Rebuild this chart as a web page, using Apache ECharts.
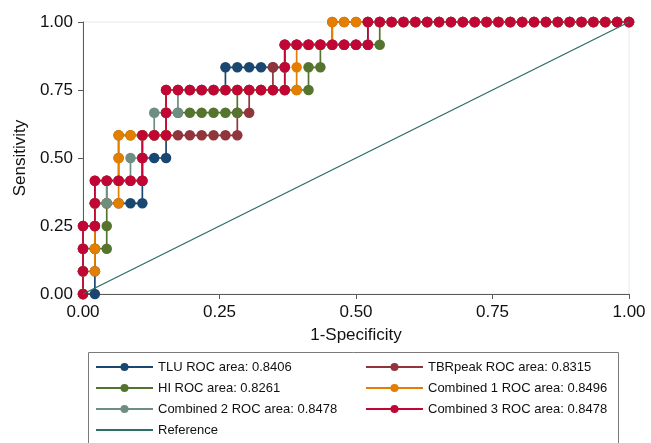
<!DOCTYPE html>
<html><head><meta charset="utf-8">
<script src="https://cdn.jsdelivr.net/npm/echarts@6/dist/echarts.min.js"></script>
<style>html,body{margin:0;padding:0;background:#fff}#c{width:651px;height:443px}</style>
</head><body><div id="c"></div>
<script>
// Counts of negatives (false positives) and positives (true positives) at each ROC point
var nNeg = 46, nPos = 12;
var xTickLabels = ['0.00','0.25','0.50','0.75','1.00'];
var yTickLabels = ['0.00','0.25','0.50','0.75','1.00'];
var seriesNames = ['TLU ROC area: 0.8406','TBRpeak ROC area: 0.8315','HI ROC area: 0.8261',
  'Combined 1 ROC area: 0.8496','Combined 2 ROC area: 0.8478','Combined 3 ROC area: 0.8478','Reference'];

var tluPts = [[0,0],[1,0],[1,1],[1,2],[1,3],[1,4],[2,4],[3,4],[4,4],[5,4],[5,5],[5,6],[6,6],[7,6],[7,7],[7,8],[7,9],[8,9],[9,9],[10,9],[11,9],[12,9],[12,10],[13,10],[14,10],[15,10],[16,10],[17,10],[17,11],[18,11],[19,11],[20,11],[21,11],[22,11],[23,11],[24,11],[24,12],[25,12],[26,12],[27,12],[28,12],[29,12],[30,12],[31,12],[32,12],[33,12],[34,12],[35,12],[36,12],[37,12],[38,12],[39,12],[40,12],[41,12],[42,12],[43,12],[44,12],[45,12],[46,12]];

var tbrPts = [[0,0],[0,1],[0,2],[0,3],[1,3],[1,4],[1,5],[2,5],[3,5],[4,5],[5,5],[5,6],[5,7],[6,7],[7,7],[8,7],[9,7],[10,7],[11,7],[12,7],[13,7],[13,8],[14,8],[14,9],[15,9],[16,9],[16,10],[17,10],[17,11],[18,11],[19,11],[20,11],[21,11],[21,12],[22,12],[23,12],[24,12],[25,12],[26,12],[27,12],[28,12],[29,12],[30,12],[31,12],[32,12],[33,12],[34,12],[35,12],[36,12],[37,12],[38,12],[39,12],[40,12],[41,12],[42,12],[43,12],[44,12],[45,12],[46,12]];

var hiPts = [[0,0],[0,1],[0,2],[1,2],[2,2],[2,3],[2,4],[2,5],[3,5],[3,6],[3,7],[4,7],[5,7],[6,7],[7,7],[7,8],[8,8],[9,8],[10,8],[11,8],[12,8],[13,8],[13,9],[14,9],[15,9],[16,9],[17,9],[18,9],[19,9],[19,10],[20,10],[20,11],[21,11],[22,11],[23,11],[24,11],[25,11],[25,12],[26,12],[27,12],[28,12],[29,12],[30,12],[31,12],[32,12],[33,12],[34,12],[35,12],[36,12],[37,12],[38,12],[39,12],[40,12],[41,12],[42,12],[43,12],[44,12],[45,12],[46,12]];

var comb1Pts = [[0,0],[0,1],[1,1],[1,2],[1,3],[1,4],[2,4],[3,4],[3,5],[3,6],[3,7],[4,7],[5,7],[6,7],[7,7],[7,8],[7,9],[8,9],[9,9],[10,9],[11,9],[12,9],[13,9],[14,9],[15,9],[16,9],[17,9],[18,9],[18,10],[18,11],[19,11],[20,11],[21,11],[21,12],[22,12],[23,12],[24,12],[25,12],[26,12],[27,12],[28,12],[29,12],[30,12],[31,12],[32,12],[33,12],[34,12],[35,12],[36,12],[37,12],[38,12],[39,12],[40,12],[41,12],[42,12],[43,12],[44,12],[45,12],[46,12]];

var comb2Pts = [[0,0],[0,1],[0,2],[0,3],[1,3],[1,4],[2,4],[2,5],[3,5],[4,5],[4,6],[5,6],[5,7],[6,7],[6,8],[7,8],[8,8],[8,9],[9,9],[10,9],[11,9],[12,9],[13,9],[14,9],[15,9],[16,9],[17,9],[17,10],[17,11],[18,11],[19,11],[20,11],[21,11],[22,11],[23,11],[24,11],[24,12],[25,12],[26,12],[27,12],[28,12],[29,12],[30,12],[31,12],[32,12],[33,12],[34,12],[35,12],[36,12],[37,12],[38,12],[39,12],[40,12],[41,12],[42,12],[43,12],[44,12],[45,12],[46,12]];

var comb3Pts = [[0,0],[0,1],[0,2],[0,3],[1,3],[1,4],[1,5],[2,5],[3,5],[4,5],[5,5],[5,6],[5,7],[6,7],[7,7],[7,8],[7,9],[8,9],[9,9],[10,9],[11,9],[12,9],[13,9],[14,9],[15,9],[16,9],[17,9],[17,10],[17,11],[18,11],[19,11],[20,11],[21,11],[22,11],[23,11],[24,11],[24,12],[25,12],[26,12],[27,12],[28,12],[29,12],[30,12],[31,12],[32,12],[33,12],[34,12],[35,12],[36,12],[37,12],[38,12],[39,12],[40,12],[41,12],[42,12],[43,12],[44,12],[45,12],[46,12]];

var refPts = [[0,0],[1,1]];

var colors = ['#1a476f','#90353b','#55752f','#e37e00','#6e8e84','#c10534','#2d6d66'];
var FONT = '"Liberation Sans", Arial, Helvetica, sans-serif';

function toRates(pts){ return pts.map(function(p){ return [p[0]/nNeg, p[1]/nPos]; }); }

var rocSets = [tluPts, tbrPts, hiPts, comb1Pts, comb2Pts, comb3Pts];
var series = rocSets.map(function(pts, k){
  return {
    type:'line', name: seriesNames[k], data: toRates(pts),
    symbol:'circle', symbolSize:10.5, showSymbol:true, clip:false,
    lineStyle:{color:colors[k], width:1.7},
    itemStyle:{color:colors[k], borderWidth:0},
    emphasis:{disabled:true}, animation:false, z: 2
  };
});
series.push({
  type:'line', name: seriesNames[6], data: refPts, symbol:'none', clip:false,
  lineStyle:{color:colors[6], width:1.3}, itemStyle:{color:colors[6]},
  emphasis:{disabled:true}, animation:false, z: 3
});

function legendAt(left, top, names){
  return {
    orient:'vertical', left:left, top:top, padding:0, height:120,
    itemWidth:57, itemHeight:10, itemGap:7, itemTextGap:13,
    textStyle:{fontFamily:FONT, fontSize:13, color:'#111', lineHeight:14},
    selectedMode:false, data:names
  };
}

var chart = echarts.init(document.getElementById('c'), null, {renderer:'canvas'});
chart.setOption({
  backgroundColor:'#ffffff',
  animation:false,
  color: colors,
  grid:{left:83, right:22, top:22, bottom:149, show:true, borderColor:'#e2eaec', borderWidth:1, backgroundColor:'transparent'},
  xAxis:{
    type:'value', min:0, max:1, interval:0.25,
    name:'1-Specificity', nameLocation:'middle', nameGap:33,
    nameTextStyle:{fontFamily:FONT, fontSize:17, color:'#111'},
    axisLine:{show:true, lineStyle:{color:'#5a5a5a', width:1}},
    axisTick:{show:true, length:5, lineStyle:{color:'#5a5a5a'}},
    axisLabel:{fontFamily:FONT, fontSize:17, color:'#111', margin:10,
      formatter:function(v){ return xTickLabels[Math.round(v*4)]; }},
    splitLine:{show:false}
  },
  yAxis:{
    type:'value', min:0, max:1, interval:0.25,
    name:'Sensitivity', nameLocation:'middle', nameGap:54, nameRotate:90,
    nameTextStyle:{fontFamily:FONT, fontSize:17, color:'#111'},
    axisLine:{show:true, lineStyle:{color:'#5a5a5a', width:1}},
    axisTick:{show:true, length:5, lineStyle:{color:'#5a5a5a'}},
    axisLabel:{fontFamily:FONT, fontSize:17, color:'#111', margin:10,
      formatter:function(v){ return yTickLabels[Math.round(v*4)]; }},
    splitLine:{show:false}
  },
  legend:[
    legendAt(95, 360, [seriesNames[0], seriesNames[2], seriesNames[4]]),
    legendAt(365, 360, [seriesNames[1], seriesNames[3], seriesNames[5]]),
    legendAt(95, 423, [{name:seriesNames[6], itemStyle:{color:'rgba(0,0,0,0)', opacity:0, borderWidth:0}}])
  ],
  graphic:[{
    type:'rect', shape:{x:88.5, y:352.5, width:530, height:120},
    style:{fill:'none', stroke:'#7a7a7a', lineWidth:1}, silent:true, z:0
  }],
  series: series
});
</script>
</body></html>
